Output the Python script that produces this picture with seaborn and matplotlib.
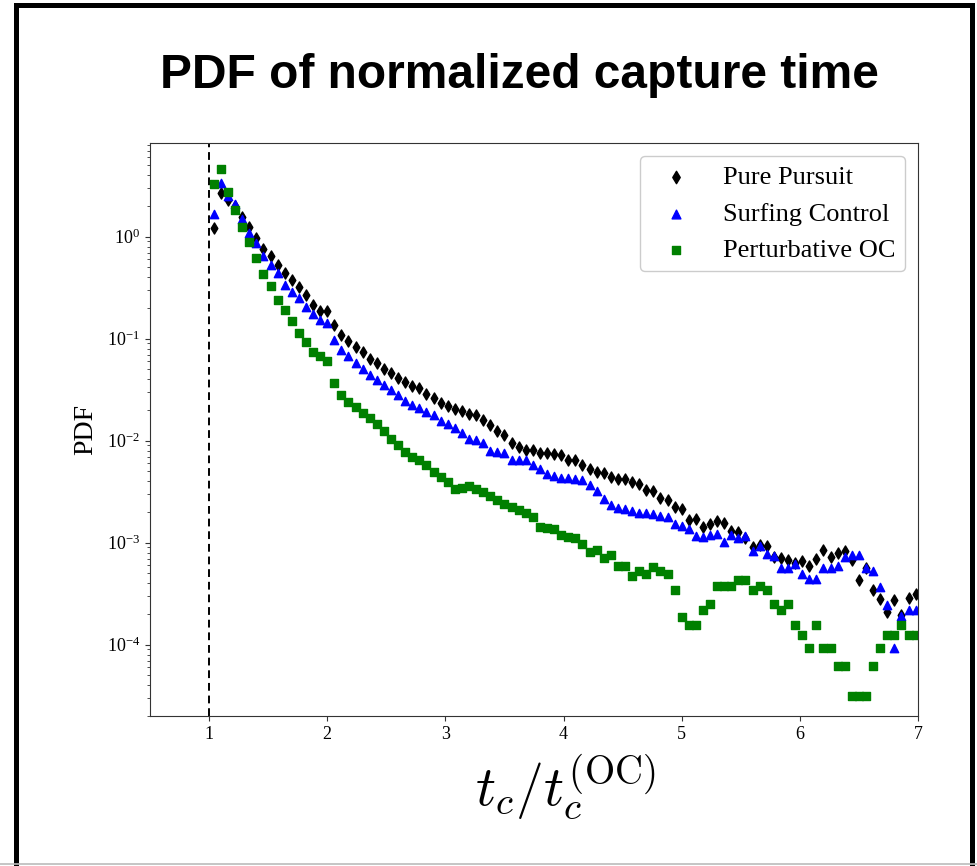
import matplotlib

matplotlib.use("Agg")
import matplotlib.pyplot as plt
from matplotlib.lines import Line2D
from matplotlib.patches import Rectangle
import pandas as pd
import seaborn as sns

# bin centres of the normalized capture time t_c / t_c^(OC)
bin_centers = [
    1.04, 1.10, 1.16, 1.22, 1.28, 1.34, 1.40, 1.46, 1.52, 1.58,
    1.64, 1.70, 1.76, 1.82, 1.88, 1.94, 2.00, 2.06, 2.12, 2.18,
    2.24, 2.30, 2.36, 2.42, 2.48, 2.54, 2.60, 2.66, 2.72, 2.78,
    2.84, 2.90, 2.96, 3.02, 3.08, 3.14, 3.20, 3.26, 3.32, 3.38,
    3.44, 3.50, 3.56, 3.62, 3.68, 3.74, 3.80, 3.86, 3.92, 3.98,
    4.04, 4.10, 4.16, 4.22, 4.28, 4.34, 4.40, 4.46, 4.52, 4.58,
    4.64, 4.70, 4.76, 4.82, 4.88, 4.94, 5.00, 5.06, 5.12, 5.18,
    5.24, 5.30, 5.36, 5.42, 5.48, 5.54, 5.60, 5.66, 5.72, 5.78,
    5.84, 5.90, 5.96, 6.02, 6.08, 6.14, 6.20, 6.26, 6.32, 6.38,
    6.44, 6.50, 6.56, 6.62, 6.68, 6.74, 6.80, 6.86, 6.92, 6.98,
]

pure_pursuit = [
    1.22, 2.71, 2.29, 2.01, 1.57, 1.25, 0.971, 0.758, 0.647, 0.532,
    0.438, 0.377, 0.319, 0.271, 0.216, 0.189, 0.188, 0.135, 0.108, 0.0945,
    0.0826, 0.0733, 0.0636, 0.0576, 0.0505, 0.0457, 0.0413, 0.0375, 0.0341, 0.0326,
    0.0284, 0.0263, 0.0234, 0.0217, 0.0206, 0.0195, 0.0184, 0.0177, 0.0158, 0.0142,
    0.0125, 0.0114, 0.00954, 0.00876, 0.00818, 0.00805, 0.00753, 0.00758, 0.00748, 0.0072,
    0.00643, 0.00641, 0.00574, 0.00527, 0.00494, 0.0048, 0.00441, 0.00421, 0.00419, 0.00392,
    0.00374, 0.00331, 0.00325, 0.00273, 0.00265, 0.00223, 0.00212, 0.00166, 0.0017, 0.00141,
    0.00154, 0.00162, 0.00156, 0.00129, 0.00128, 0.0011, 0.000906, 0.000947, 0.00092, 0.000728,
    0.00071, 0.000676, 0.000627, 0.000665, 0.00059, 0.000691, 0.000847, 0.000728, 0.000791, 0.000837,
    0.000671, 0.000435, 0.00056, 0.000344, 0.00028, 0.000211, 0.000277, 0.000196, 0.000285, 0.000314,
]

surfing_control = [
    1.68, 3.34, 2.52, 2.09, 1.49, 1.10, 0.86, 0.644, 0.526, 0.439,
    0.339, 0.285, 0.25, 0.207, 0.174, 0.151, 0.144, 0.0961, 0.0779, 0.067,
    0.0582, 0.0507, 0.0444, 0.0393, 0.0348, 0.0313, 0.0278, 0.0247, 0.0225, 0.0211,
    0.0191, 0.0179, 0.0157, 0.0145, 0.0132, 0.012, 0.0103, 0.0102, 0.00943, 0.008,
    0.00775, 0.00766, 0.00653, 0.00647, 0.00643, 0.00578, 0.00533, 0.00477, 0.00448, 0.00431,
    0.0043, 0.00426, 0.00413, 0.0037, 0.00325, 0.00269, 0.00236, 0.0022, 0.00214, 0.00203,
    0.00195, 0.00194, 0.00193, 0.00181, 0.00177, 0.00152, 0.00145, 0.00135, 0.00116, 0.00115,
    0.00119, 0.00123, 0.00102, 0.00119, 0.0011, 0.00116, 0.000833, 0.00092, 0.000774, 0.000748,
    0.00056, 0.000564, 0.000621, 0.000493, 0.000437, 0.000436, 0.00056, 0.000561, 0.00059, 0.000723,
    0.000765, 0.000756, 0.00056, 0.000531, 0.00037, 0.000245, 0.0000924, 0.00019, 0.000218, 0.000219,
]

perturbative_oc = [
    3.28, 4.60, 2.76, 1.84, 1.25, 0.894, 0.613, 0.432, 0.326, 0.242,
    0.193, 0.148, 0.113, 0.0939, 0.0738, 0.067, 0.0608, 0.0367, 0.0283, 0.0239,
    0.0214, 0.0188, 0.0166, 0.0145, 0.0124, 0.0103, 0.00902, 0.00784, 0.00693, 0.00643,
    0.00574, 0.00494, 0.00441, 0.00394, 0.0034, 0.00341, 0.00358, 0.00337, 0.00313, 0.00289,
    0.00261, 0.00242, 0.00225, 0.0021, 0.00197, 0.00178, 0.00144, 0.00138, 0.00135, 0.00119,
    0.00114, 0.0011, 0.000975, 0.000815, 0.000852, 0.00071, 0.000756, 0.000597, 0.000596, 0.000477,
    0.000533, 0.000498, 0.000573, 0.000532, 0.000496, 0.000344, 0.000186, 0.000156, 0.000156, 0.000218,
    0.000249, 0.000373, 0.000373, 0.000373, 0.000435, 0.000435, 0.000342, 0.000373, 0.000342, 0.000249,
    0.000218, 0.000249, 0.000156, 0.000124, 0.0000933, 0.000156, 0.0000933, 0.0000933, 0.0000622, 0.0000622,
    0.0000311, 0.0000311, 0.0000311, 0.0000622, 0.0000933, 0.000124, 0.000124, 0.000156, 0.000124, 0.000124,
]

series_names = ["Pure Pursuit", "Surfing Control", "Perturbative OC"]
series_values = [pure_pursuit, surfing_control, perturbative_oc]
series_colors = ["black", "blue", "green"]
series_markers = ["d", "^", "s"]
series_sizes = [32, 36, 36]

sns.set_theme(style="ticks")
plt.rcParams.update({
    "font.family": ["Liberation Serif", "DejaVu Serif"],
    "mathtext.fontset": "stix",
    "axes.edgecolor": "#333333",
    "axes.linewidth": 0.8,
    "xtick.color": "#333333",
    "ytick.color": "#333333",
    "xtick.labelcolor": "black",
    "ytick.labelcolor": "black",
    "text.color": "black",
    "axes.labelcolor": "black",
})

rows = []
for name, vals in zip(series_names, series_values):
    assert len(vals) == len(bin_centers)
    rows.append(pd.DataFrame({"t": bin_centers, "pdf": vals, "method": name}))
df = pd.concat(rows, ignore_index=True)

fig = plt.figure(figsize=(9.78, 8.66), dpi=100)
W, H = 978, 866
ax = fig.add_axes([150 / W, 1 - 716 / H, 768 / W, 573 / H])

for name, color, marker, size in zip(series_names, series_colors, series_markers, series_sizes):
    sub = df[df["method"] == name]
    sns.scatterplot(data=sub, x="t", y="pdf", color=color, marker=marker, s=size,
                    edgecolor=color, linewidth=1.0, label=name, ax=ax)

ax.axvline(1.0, color="black", linestyle=(0, (4, 2.5)), linewidth=1.4, zorder=0)

ax.set_yscale("log")
ax.set_xlim(0.5, 7.0)
ax.set_ylim(2.0e-5, 8.3)
ax.set_xticks([1, 2, 3, 4, 5, 6, 7])
ax.tick_params(axis="both", which="major", labelsize=13, length=3.5, width=0.8)
ax.tick_params(axis="y", which="minor", length=2, width=0.6)

ax.set_xlabel(r"$t_c/t_c^{(\mathrm{OC})}$", fontsize=40, math_fontfamily="cm")
ax.xaxis.set_label_coords((565 - 150) / 768, (716 - 752) / 573)
ax.set_ylabel("PDF", fontsize=20, labelpad=6)

leg = ax.legend(loc="upper right", frameon=True, fancybox=True, fontsize=19,
                labelspacing=0.5, handletextpad=0.8, borderpad=0.35,
                edgecolor="#cccccc", framealpha=1.0)
for h in leg.legend_handles:
    h.set_sizes([40])

fig.text(519 / W, 1 - 75 / H, "PDF of normalized capture time",
         family=["Liberation Sans", "DejaVu Sans"], weight="bold",
         fontsize=34.5, ha="center", va="center", color="black")

# page border around the figure
fig.add_artist(Rectangle((16.5 / W, -0.05), (972 - 16.5) / W, 1.05 - 5 / H,
                         transform=fig.transFigure, fill=False,
                         edgecolor="black", linewidth=3.6))
fig.add_artist(Line2D([0, 1], [1 - 864 / H, 1 - 864 / H], transform=fig.transFigure,
                      color="#bbbbbb", linewidth=1.2))

fig.savefig("out.png", dpi=100)
plt.close(fig)
